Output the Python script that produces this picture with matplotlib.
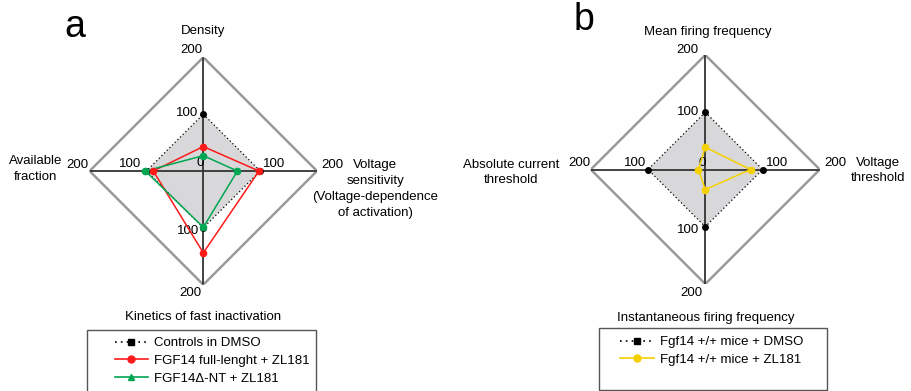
import numpy as np
import matplotlib.pyplot as plt
from matplotlib.lines import Line2D
from matplotlib.patches import Rectangle

plt.rcParams['font.family'] = ['Liberation Sans', 'DejaVu Sans']

# axes: top, right, bottom, left
thetas = np.array([np.pi / 2, 0, 3 * np.pi / 2, np.pi])

# panel a data
a_labels = ['Density', 'Voltage\nsensitivity\n(Voltage-dependence\nof activation)',
            'Kinetics of fast inactivation', 'Available\nfraction']
a_controls = [100, 100, 100, 100]
a_full = [43, 98, 144, 88]
a_dnt = [27, 60, 99, 102]
a_series_names = ['Controls in DMSO', 'FGF14 full-lenght + ZL181', 'FGF14\u0394-NT + ZL181']

# panel b data
b_labels = ['Mean firing frequency', 'Voltage\nthreshold',
            'Instantaneous firing frequency', 'Absolute current\nthreshold']
b_controls = [100, 100, 100, 100]
b_zl = [39, 79, 35, 12]
b_series_names = ['Fgf14 +/+ mice + DMSO', 'Fgf14 +/+ mice + ZL181']

tick_vals = [100, 200]
fs = 9.5
RED = '#ff1a1a'
GREEN = '#00a651'
YELLOW = '#f5d000'


def closed(v):
    v = list(v)
    return v + v[:1]


def draw_radar(ax, controls, series, colors, tick_off, zero_off, label_off, labels, line_gap=15.5):
    ax.set_ylim(0, 200)
    ax.set_axis_off()
    th = closed(thetas)
    # grey area of controls
    ax.fill(th, closed(controls), color='#d8d8da', zorder=1, lw=0)
    # outer diamond
    ax.plot(th, [200] * 5, color='#9a9a9a', lw=1.8, zorder=2)
    # spokes
    for t in thetas:
        ax.plot([t, t], [0, 200], color='#333333', lw=1.3, zorder=3)
    # controls
    ax.plot(th, closed(controls), color='black', ls=(0, (1, 2)), lw=0.9, zorder=4)
    ax.plot(thetas, controls, 'o', color='black', ms=4, zorder=5)
    for vals, c in zip(series, colors):
        ax.plot(th, closed(vals), color=c, lw=1.1, zorder=6)
        ax.plot(thetas, vals, 'o', color=c, ms=4.5, zorder=7)
    # tick labels
    for i, t in enumerate(thetas):
        for j, r in enumerate(tick_vals):
            dx, dy = tick_off[i][j]
            ax.annotate(str(r), xy=(t, r), xytext=(dx * 0.72, dy * 0.72),
                        textcoords='offset points', ha='center', va='center',
                        fontsize=fs, annotation_clip=False)
    ax.annotate('0', xy=(0, 0), xytext=(zero_off[0] * 0.72, zero_off[1] * 0.72),
                textcoords='offset points', ha='center', va='center', fontsize=fs,
                annotation_clip=False)
    # axis names, one line at a time
    for lab, (dx, dy) in zip(labels, label_off):
        lines = lab.split('\n')
        n = len(lines)
        for k, line in enumerate(lines):
            yy = dy + (n - 1) / 2 * line_gap - k * line_gap
            ax.annotate(line, xy=(0, 0), xytext=(dx * 0.72, yy * 0.72),
                        textcoords='offset points', ha='center', va='baseline',
                        fontsize=fs, annotation_clip=False)


fig = plt.figure(figsize=(9.11, 3.91), dpi=100)
W, H = 911, 391

# panel a
ax1 = fig.add_axes([(203.3 - 113.7) / W, (H - 171 - 113.7) / H, 227.4 / W, 227.4 / H],
                   projection='polar')
draw_radar(ax1, a_controls, [a_full, a_dnt], [RED, GREEN],
           tick_off=[[(-16, 1), (-12, 7)], [(14, 7), (15, 6)],
                     [(-15, -3), (-13, -8)], [(-16, 7), (-12, 6)]],
           zero_off=(-3, 8),
           label_off=[(0, 137), (172, -21), (0, -149), (-168, -1)],
           labels=a_labels, line_gap=16.3)

# panel b
ax2 = fig.add_axes([(705.3 - 114.5) / W, (H - 169.5 - 114.5) / H, 229 / W, 229 / H],
                   projection='polar')
draw_radar(ax2, b_controls, [b_zl], [YELLOW],
           tick_off=[[(-17, 0), (-18, 5)], [(15, 6.5), (16, 6.5)],
                     [(-17, -3), (-14, -9)], [(-13, 6.5), (-11, 6.5)]],
           zero_off=(-3.5, 6.5),
           label_off=[(2, 135), (173, -4), (0, -152), (-194, -6)],
           labels=b_labels, line_gap=15)

# panel letters
fig.text(64 / W, 1 - 37 / H, 'a', fontsize=27, va='baseline')
fig.text(574 / W, 1 - 30 / H, 'b', fontsize=27, va='baseline')

# legend boxes
fig.patches.append(Rectangle((87 / W, 1 - 410 / H), 229 / W, 80 / H, transform=fig.transFigure,
                             fill=False, edgecolor='#555555', lw=1))
fig.patches.append(Rectangle((599 / W, 1 - 390 / H), 228 / W, 62 / H, transform=fig.transFigure,
                             fill=False, edgecolor='#555555', lw=1))

dot_ls = (0, (1, 2.5))
a_handles = [Line2D([], [], color='black', ls=dot_ls, lw=1.2, marker='s', ms=4),
             Line2D([], [], color=RED, lw=1.2, marker='o', ms=5),
             Line2D([], [], color=GREEN, lw=1.2, marker='^', ms=5)]
fig.legend(a_handles, a_series_names, loc='upper left',
           bbox_to_anchor=(115 / W, 1 - 337 / H), frameon=False, fontsize=fs,
           borderpad=0, borderaxespad=0, handlelength=2.5, handletextpad=0.45,
           labelspacing=0.42)

b_handles = [Line2D([], [], color='black', ls=dot_ls, lw=1.2, marker='s', ms=4),
             Line2D([], [], color=YELLOW, lw=1.2, marker='o', ms=5)]
fig.legend(b_handles, b_series_names, loc='upper left',
           bbox_to_anchor=(620 / W, 1 - 336 / H), frameon=False, fontsize=fs,
           borderpad=0, borderaxespad=0, handlelength=2.6, handletextpad=0.45,
           labelspacing=0.42)

fig.savefig('out.png', dpi=100)
